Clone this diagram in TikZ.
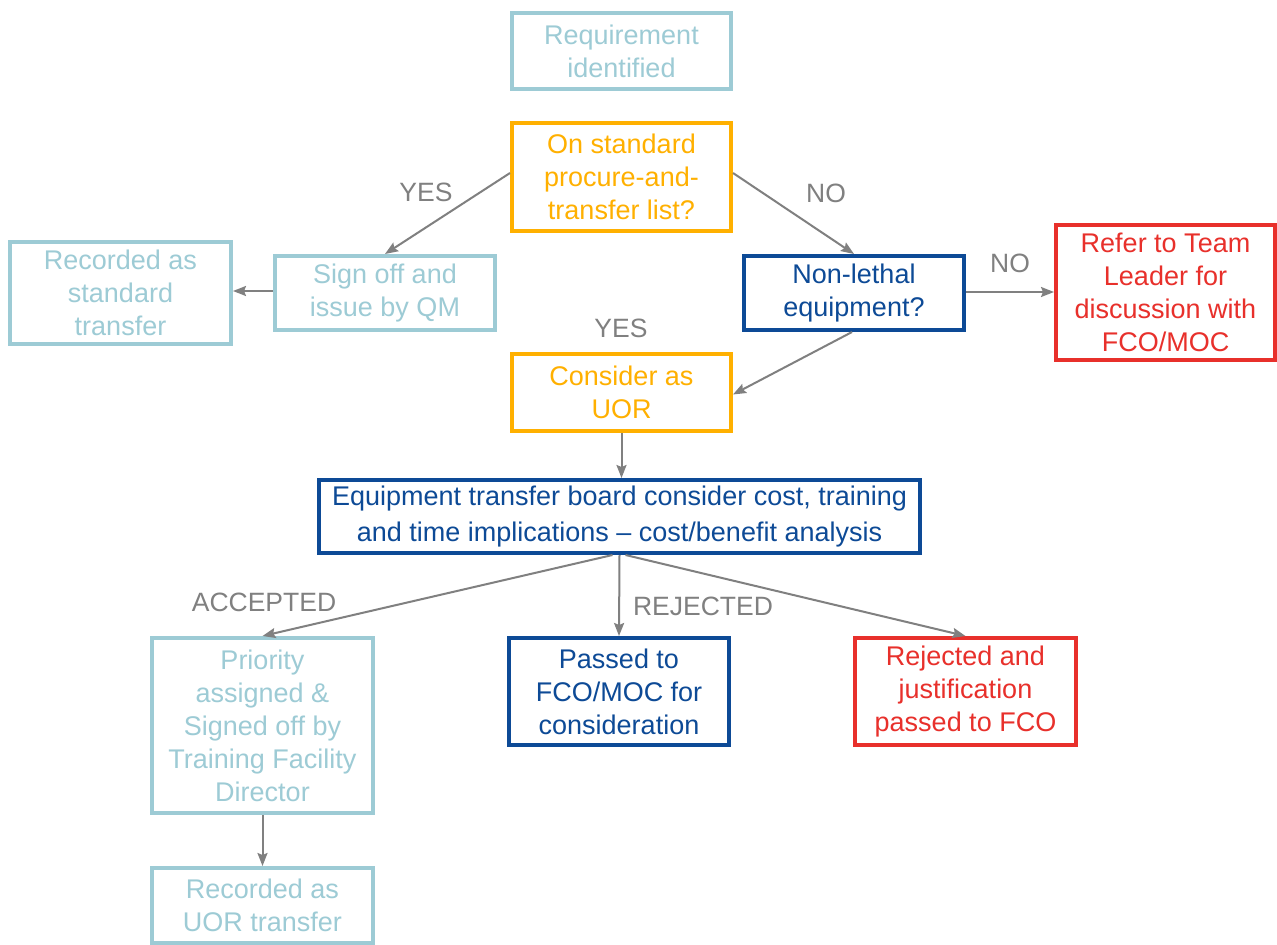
\documentclass[tikz,border=0pt]{standalone}
\usepackage{fontspec}
\setmainfont{Liberation Sans}
\usetikzlibrary{arrows.meta}
\definecolor{lblue}{HTML}{9DCBD5}
\definecolor{orng}{HTML}{FFB000}
\definecolor{dblue}{HTML}{0D4A96}
\definecolor{rred}{HTML}{E8302B}
\definecolor{gline}{HTML}{808080}
\tikzset{
  box/.style={draw, line width=4pt, fill=white, align=center, inner sep=0pt,
    font=\fontsize{27}{33}\selectfont},
  lbbox/.style={box, draw=lblue, text=lblue},
  orbox/.style={box, draw=orng, text=orng},
  dbbox/.style={box, draw=dblue, text=dblue},
  rdbox/.style={box, draw=rred, text=rred},
  conn/.style={draw=gline, line width=2pt, -{Stealth[length=13pt,width=10pt,inset=2pt]}},
  lbl/.style={text=gline, font=\fontsize{26.5}{30}\selectfont, inner sep=0pt}
}
\begin{document}
\begin{tikzpicture}[x=1pt,y=-1pt]
\useasboundingbox[fill=white] (0,0) rectangle (1277,945);

\node[lbbox, minimum width=219pt, minimum height=76pt] (req) at (621.5,51) {Requirement\\identified};
\node[orbox, minimum width=219pt, minimum height=108pt] (onstd) at (621.5,177) {On standard\\procure-and-\\transfer list?};
\node[lbbox, minimum width=220pt, minimum height=74pt] (sign) at (385,293) {Sign off and\\issue by QM};
\node[lbbox, minimum width=221pt, minimum height=102pt] (recstd) at (120.5,293) {Recorded as\\standard\\transfer};
\node[dbbox, minimum width=220pt, minimum height=74pt] (nonl) at (854,293) {Non-lethal\\equipment?};
\node[rdbox, minimum width=219pt, minimum height=135pt] (refer) at (1165.5,292.5) {Refer to Team\\Leader for\\discussion with\\FCO/MOC};
\node[orbox, minimum width=219pt, minimum height=77pt] (uor) at (621.5,392.5) {Consider as\\UOR};
\node[dbbox, minimum width=601pt, minimum height=73pt, font=\fontsize{27}{36}\selectfont] (board) at (619.5,516.5) {Equipment transfer board consider cost, training\\and time implications -- cost/benefit analysis};
\node[lbbox, minimum width=221pt, minimum height=175pt] (prio) at (262.5,725.5) {Priority\\assigned \&\\Signed off by\\Training Facility\\Director};
\node[dbbox, minimum width=220pt, minimum height=107pt] (pass) at (619,691.5) {Passed to\\FCO/MOC for\\consideration};
\node[rdbox, minimum width=221pt, minimum height=107pt] (rej) at (965.5,691.5) {Rejected and\\justification\\passed to FCO};
\node[lbbox, minimum width=221pt, minimum height=75pt] (recuor) at (262.5,905.5) {Recorded as\\UOR transfer};

% connectors
\draw[conn] ([yshift=4pt]onstd.west) -- (sign.north);
\draw[conn] ([yshift=4pt]onstd.east) -- (nonl.north);
\draw[conn] ([yshift=2pt]sign.west) -- ([yshift=2pt]recstd.east);
\draw[conn] ([yshift=1pt]nonl.east) -- ([yshift=1pt]nonl.east -| refer.west);
\draw[conn] ([xshift=-2pt]nonl.south) -- ([yshift=-2pt]uor.east);
\draw[conn] (uor.south) -- (uor.south |- board.north);
\draw[conn] ([xshift=-7pt]board.south) -- (prio.north);
\draw[conn] (board.south) -- (pass.north);
\draw[conn] ([xshift=6pt]board.south) -- (rej.north);
\draw[conn] (prio.south) -- (recuor.north);

% branch labels
\node[lbl] (lyes1) at (426,192) {YES};
\node[lbl] (lno1) at (826,193) {NO};
\node[lbl] (lno2) at (1010,263) {NO};
\node[lbl] (lyes2) at (621,328) {YES};
\node[lbl] (lacc) at (264,602) {ACCEPTED};
\node[lbl] (lrej) at (703,606) {REJECTED};
\end{tikzpicture}
\end{document}
